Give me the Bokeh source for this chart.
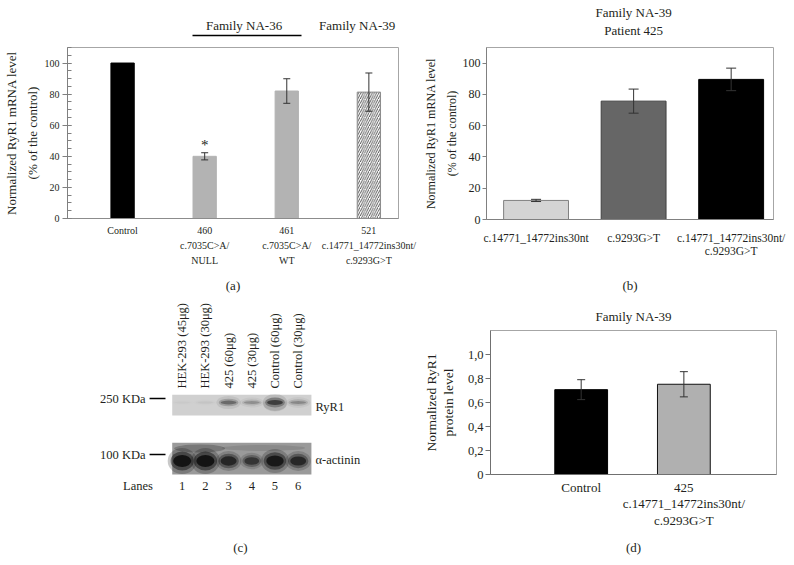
import math
from bokeh.plotting import figure
from bokeh.models import (ColumnDataSource, Whisker, TeeHead, FixedTicker, Range1d, Title,
                          SingleIntervalTicker, LinearAxis, CustomJSTickFormatter)
from bokeh.layouts import row, column
from bokeh.embed import file_html
from bokeh.resources import INLINE
from bokeh.core.properties import value

FONT = "Liberation Serif"
INK = "#231f20"

# ---------------- data ----------------
# (a) RyR1 mRNA level, % of control
a_labels = ["Control", "460\nc.7035C>A/\nNULL", "461\nc.7035C>A/\nWT",
            "521\nc.14771_14772ins30nt/\nc.9293G>T"]
a_values = [100, 40, 82, 81.3]
a_errors = [0, 2.3, 7.9, 12.3]
a_marks = ["", "*", "", ""]
a_families = ["Family NA-36", "Family NA-39"]

# (b) Family NA-39, patient 425
b_labels = ["c.14771_14772ins30nt", "c.9293G>T", "c.14771_14772ins30nt/\nc.9293G>T"]
b_values = [12.2, 75.7, 89.6]
b_errors = [0.7, 7.7, 7.2]
b_header = ["Patient 425", "Family NA-39"]

# (c) western blot
c_lanes = [1, 2, 3, 4, 5, 6]
c_lane_labels = ["HEK-293 (45μg)", "HEK-293 (30μg)", "425 (60μg)", "425 (30μg)",
                 "Control (60μg)", "Control (30μg)"]
c_ryr1 = [0.03, 0.05, 0.6, 0.35, 0.9, 0.4]
c_actinin = [1.0, 1.0, 0.62, 0.38, 0.88, 0.6]
c_rows = ["RyR1", "α-actinin"]
c_markers = ["250 KDa", "100 KDa"]

# (d) RyR1 protein level
d_labels = ["Control", "425\nc.14771_14772ins30nt/\nc.9293G>T"]
d_values = [0.707, 0.752]
d_errors = [0.083, 0.105]

# ---------------- styles ----------------
a_fill = ["#000000", "#b3b3b3", "#b3b3b3", "#ffffff"]
a_line = ["#000000", "#b3b3b3", "#b3b3b3", "#8c8c8c"]
a_hatch = [" ", " ", " ", "/"]
b_fill = ["#d4d4d4", "#666666", "#000000"]
b_line = ["#808080", "#404040", "#000000"]
d_fill = ["#000000", "#b0b0b0"]
d_line = ["#000000", "#111111"]


def base(width, height, xr, yr, ml, mr, mt, mb):
    p = figure(width=width, height=height, x_range=Range1d(*xr), y_range=Range1d(*yr),
               output_backend="svg", toolbar_location=None, frame_align=False,
               min_border_left=ml, min_border_right=mr, min_border_top=mt, min_border_bottom=mb)
    p.xgrid.visible = False
    p.ygrid.visible = False
    p.background_fill_color = "white"
    p.border_fill_color = "white"
    p.title.visible = False
    return p


def style_axis(ax, size, color="#808080"):
    ax.major_label_text_font = FONT
    ax.major_label_text_font_size = f"{size}px"
    ax.major_label_text_color = INK
    ax.axis_label_text_font = FONT
    ax.axis_label_text_font_style = "normal"
    ax.axis_label_text_color = INK
    ax.axis_line_color = color
    ax.major_tick_line_color = color
    ax.minor_tick_line_color = color


def add_whisker(p, xs, vals, errs, head):
    src = ColumnDataSource(dict(x=xs, lower=[v - e for v, e in zip(vals, errs)],
                                upper=[v + e for v, e in zip(vals, errs)]))
    p.add_layout(Whisker(base="x", lower="lower", upper="upper", source=src,
                         line_color="#333333",
                         upper_head=TeeHead(size=head, line_color="#333333"),
                         lower_head=TeeHead(size=head, line_color="#333333"), level="overlay"))


def header_axis(p, ticks, labels, size, tick_out, standoff, line_color=None, bounds="auto"):
    ax = LinearAxis(ticker=FixedTicker(ticks=ticks),
                    major_label_overrides={t: l for t, l in zip(ticks, labels)},
                    bounds=bounds, major_tick_out=tick_out, major_tick_in=0, minor_tick_out=0,
                    minor_tick_in=0, major_label_standoff=standoff)
    style_axis(ax, size, "#000000")
    ax.axis_line_color = line_color
    ax.axis_line_width = 1.3
    ax.major_tick_line_color = None
    p.add_layout(ax, "above")
    return ax


# ---------------- panel (a) ----------------
a_x = list(range(1, len(a_values) + 1))
pa = base(420, 296, (0.329, 4.361), (0, 110), 67, 22, 47, 77)
pa.outline_line_color = "#a6a6a6"
a_src = ColumnDataSource(dict(x=a_x, top=a_values, fill=a_fill, line=a_line, hatch=a_hatch))
pa.vbar(x="x", top="top", width=0.284, source=a_src, fill_color="fill", line_color="line",
        hatch_pattern="hatch", hatch_color="#444444", hatch_scale=4.5, hatch_weight=0.9)
ia = [i for i, e in enumerate(a_errors) if e > 0]
add_whisker(pa, [a_x[i] for i in ia], [a_values[i] for i in ia], [a_errors[i] for i in ia], 7)
pa.text(x=a_x, y=[v + e + 5 for v, e in zip(a_values, a_errors)], text=a_marks,
        text_font=value(FONT), text_font_size="15px", text_align="center",
        text_baseline="alphabetic", text_color=INK)
pa.yaxis.ticker = SingleIntervalTicker(interval=20, num_minor_ticks=4)
style_axis(pa.yaxis[0], 10)
pa.yaxis.major_tick_in = 4
pa.yaxis.major_tick_out = 5
pa.yaxis.minor_tick_in = 4
pa.yaxis.minor_tick_out = 0
pa.yaxis.major_label_standoff = 3
pa.yaxis.axis_label = "Normalized RyR1 mRNA level\n(% of the control)"
pa.yaxis.axis_label_text_font_size = "13px"
pa.yaxis.axis_label_text_line_height = 1.4
pa.yaxis.axis_label_standoff = 2
pa.xaxis.ticker = FixedTicker(ticks=a_x)
pa.xaxis.major_label_overrides = {x: l for x, l in zip(a_x, a_labels)}
style_axis(pa.xaxis[0], 10, "#8c8c8c")
pa.xaxis.major_tick_in = 0
pa.xaxis.major_tick_out = 0
pa.xaxis.minor_tick_out = 0
pa.xaxis.major_label_standoff = 6
pa.xaxis.major_label_text_line_height = 1.4
pa.xaxis.axis_label = "(a)"
pa.xaxis.axis_label_text_font_size = "13px"
pa.xaxis.axis_label_standoff = 9
# family header: invisible spacer + bounded underline axis
FAM_X = [2.48, 3.857]
header_axis(pa, [2.0], [""], 13, 12, 0)
header_axis(pa, FAM_X, a_families, 13, 0, 3, line_color="#000000", bounds=(1.856, 3.175))

# ---------------- panel (b) ----------------
b_x = list(range(1, len(b_values) + 1))
pb = base(373, 296, (0.492, 3.434), (0, 110), 63, 20, 47, 77)
pb.outline_line_color = "#a6a6a6"
b_src = ColumnDataSource(dict(x=b_x, top=b_values, fill=b_fill, line=b_line))
pb.vbar(x="x", top="top", width=0.665, source=b_src, fill_color="fill", line_color="line")
add_whisker(pb, b_x, b_values, b_errors, 10)
pb.yaxis.ticker = SingleIntervalTicker(interval=20, num_minor_ticks=0)
style_axis(pb.yaxis[0], 12)
pb.yaxis.major_tick_in = 0
pb.yaxis.major_tick_out = 4
pb.yaxis.minor_tick_out = 0
pb.yaxis.major_label_standoff = 2
pb.yaxis.axis_label = "Normalized RyR1 mRNA level\n(% of the control)"
pb.yaxis.axis_label_text_font_size = "12px"
pb.yaxis.axis_label_text_line_height = 1.5
pb.yaxis.axis_label_standoff = 1
pb.xaxis.ticker = FixedTicker(ticks=b_x)
pb.xaxis.major_label_overrides = {x: l for x, l in zip(b_x, b_labels)}
style_axis(pb.xaxis[0], 11.5, "#808080")
pb.xaxis.major_tick_in = 0
pb.xaxis.major_tick_out = 0
pb.xaxis.minor_tick_out = 0
pb.xaxis.major_label_standoff = 12
pb.xaxis.major_label_text_line_height = 1.16
pb.xaxis.axis_label = "(b)"
pb.xaxis.axis_label_text_font_size = "13px"
pb.xaxis.axis_label_standoff = 18
b_mid = b_x[len(b_x) // 2]
header_axis(pb, [b_mid], [b_header[0]], 13, 7, 3)
header_axis(pb, [b_mid], [b_header[1]], 13, 0, 0)

# ---------------- panel (c) : blot drawn in lane / height units ----------------
pc = figure(width=420, height=268, x_range=Range1d(-6.832, 11.272), y_range=Range1d(0, 268),
            output_backend="svg", toolbar_location=None, frame_align=False,
            min_border_left=0, min_border_right=0, min_border_top=0, min_border_bottom=0)
pc.axis.visible = False
pc.grid.visible = False
pc.outline_line_color = None
pc.title.visible = False
ROW_Y = [162.0, 103.5]          # band centres
MEM = [(149.0, 169.7), (90.0, 121.7)]
MARK_Y = [166.0, 110.0]
ROWLAB_Y = [157.3, 105.0]
LANE_LAB_Y, LANE_NUM_Y, CAP_Y = 176, 79, 17
n = len(c_lanes)
lo, hi = min(c_lanes) - 0.43, max(c_lanes) + 0.57
pc.quad(left=[lo, lo], right=[hi, hi], bottom=[m[0] for m in MEM], top=[m[1] for m in MEM],
        fill_color=["#d0d0d0", "#9a9a9a"], line_color=None)
# darker smear along the top of the lower membrane
pc.ellipse(x=[1.75, 4.5], y=[116, 116.5], width=[2.2, 3.6], height=[8, 6], fill_color="#000000",
           fill_alpha=[0.22, 0.1], line_color=None)
pc.ellipse(x=[5.0], y=[160], width=[1.0], height=[14], fill_color="#000000", fill_alpha=0.08,
           line_color=None)
for dw, dh, a in [(1.05, 12, 0.12), (0.85, 7, 0.3), (0.68, 3.5, 0.55)]:
    pc.ellipse(x=c_lanes, y=[ROW_Y[0]] * n, width=[dw] * n,
               height=[dh * (0.5 + s) for s in c_ryr1],
               fill_color="#000000", fill_alpha=[a * s for s in c_ryr1], line_color=None)
for dw, dh, a in [(1.25, 26, 0.22), (1.0, 19, 0.45), (0.78, 12, 0.8)]:
    pc.ellipse(x=c_lanes, y=[ROW_Y[1]] * n, width=[dw * (0.7 + 0.3 * s) for s in c_actinin],
               height=[dh * (0.4 + 0.6 * s) for s in c_actinin],
               fill_color="#080808", fill_alpha=[min(1.0, a * (0.4 + 0.6 * s)) for s in c_actinin],
               line_color=None)
pc.segment(x0=[-0.405] * 2, y0=MARK_Y, x1=[0.28] * 2, y1=MARK_Y, line_color="#000000",
           line_width=1.3)
tk = dict(text_font=value(FONT), text_font_size="12.5px", text_color=INK, text_baseline="middle")
pc.text(x=[-0.578] * 2, y=MARK_Y, text=c_markers, text_align="right", **tk)
pc.text(x=[6.746] * 2, y=ROWLAB_Y, text=c_rows, text_align="left", **tk)
pc.text(x=c_lanes, y=[LANE_LAB_Y] * n, text=c_lane_labels, angle=math.pi / 2,
        text_align="left", **tk)
pc.text(x=c_lanes, y=[LANE_NUM_Y] * n, text=[str(l) for l in c_lanes], text_align="center", **tk)
pc.text(x=[-0.905], y=[LANE_NUM_Y], text=["Lanes"], text_align="center", **tk)
pc.text(x=[3.51], y=[CAP_Y], text=["(c)"], text_align="center", text_font=value(FONT),
        text_font_size="13px", text_color=INK, text_baseline="middle")

# ---------------- panel (d) ----------------
d_x = list(range(1, len(d_values) + 1))
pd_ = base(373, 268, (0.117, 2.902), (0, 1.2), 63, 17, 34, 90)
pd_.outline_line_color = "#a6a6a6"
d_src = ColumnDataSource(dict(x=d_x, top=d_values, fill=d_fill, line=d_line))
pd_.vbar(x="x", top="top", width=0.514, source=d_src, fill_color="fill", line_color="line")
add_whisker(pd_, d_x, d_values, d_errors, 8)
pd_.yaxis.ticker = FixedTicker(ticks=[0, 0.2, 0.4, 0.6, 0.8, 1.0])
pd_.yaxis.formatter = CustomJSTickFormatter(
    code="return tick === 0 ? '0' : tick.toFixed(1).replace('.', ',');")
style_axis(pd_.yaxis[0], 12.5, "#707070")
pd_.yaxis.major_tick_in = 0
pd_.yaxis.major_tick_out = 5
pd_.yaxis.minor_tick_out = 0
pd_.yaxis.major_label_standoff = 2
pd_.yaxis.axis_label = "Normalized RyR1\nprotein level"
pd_.yaxis.axis_label_text_font_size = "13.5px"
pd_.yaxis.axis_label_text_line_height = 1.15
pd_.yaxis.axis_label_standoff = 9
pd_.xaxis.ticker = FixedTicker(ticks=d_x)
pd_.xaxis.major_label_overrides = {x: l for x, l in zip(d_x, d_labels)}
style_axis(pd_.xaxis[0], 13, "#707070")
pd_.xaxis.major_tick_in = 0
pd_.xaxis.major_tick_out = 0
pd_.xaxis.minor_tick_out = 0
pd_.xaxis.major_label_standoff = 5
pd_.xaxis.major_label_text_line_height = 1.1
pd_.xaxis.axis_label = "(d)"
pd_.xaxis.axis_label_text_font_size = "13px"
pd_.xaxis.axis_label_standoff = 9
pd_.add_layout(Title(text="Family NA-39", align="center", text_font=FONT, text_font_size="13px",
                     text_font_style="normal", text_color=INK, standoff=13), "above")

layout = row(column(pa, pc), column(pb, pd_))
open("out.html", "w").write(file_html(layout, INLINE))
